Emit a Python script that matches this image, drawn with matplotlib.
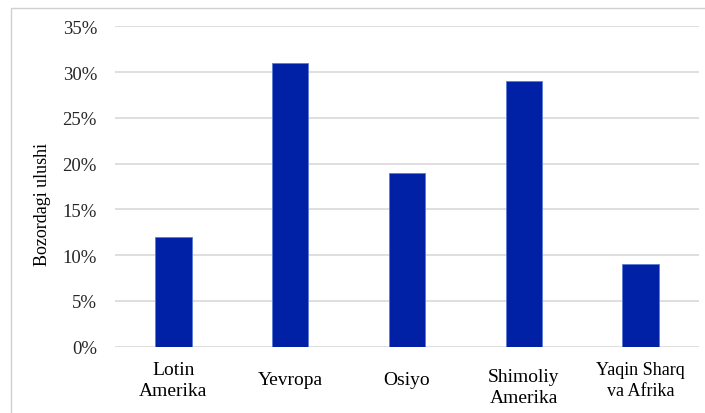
import matplotlib.pyplot as plt
from matplotlib.patches import Rectangle
from matplotlib.ticker import PercentFormatter
from matplotlib.transforms import blended_transform_factory

regions = ["Lotin\nAmerika", "Yevropa", "Osiyo", "Shimoliy\nAmerika", "Yaqin Sharq\nva Afrika"]
shares = [12, 31, 19, 29, 9]
# vertical nudge (px) and font size for each category label
label_dy = [0, 0, 0, -7, 0]
label_size = [14, 14, 14, 14, 13]


def main():
    plt.rcParams['font.family'] = ['Liberation Serif', 'DejaVu Serif']
    fig = plt.figure(figsize=(7.05, 4.14), dpi=100)
    ax = fig.add_axes([115 / 705, 1 - 347.7 / 414, 584 / 705, 320.3 / 414])

    x = range(len(regions))
    ax.bar(x, shares, width=0.31, color='#0021A5', edgecolor='#5C7BD6', linewidth=0.6, zorder=3)

    ax.set_xlim(-0.5, len(regions) - 0.5)
    ax.set_ylim(0, 35)
    ax.set_yticks(range(0, 36, 5))
    ax.yaxis.set_major_formatter(PercentFormatter(decimals=0))
    ax.tick_params(axis='y', length=0, pad=13, labelsize=13.5, labelcolor='#262626')
    ax.set_xticks([])
    ax.grid(axis='y', color='#D9D9D9', linewidth=1.2, zorder=0)
    for s in ax.spines.values():
        s.set_visible(False)

    ax.set_ylabel("Bozordagi ulushi", fontsize=13)
    ax.yaxis.set_label_coords(-64 / 584, (347.7 - 205) / 320.3)

    trans = blended_transform_factory(ax.transData, ax.transAxes)
    for i, name in enumerate(regions):
        y = (347.7 - 381 + label_dy[i]) / 320.3
        ax.text(i, y, name, transform=trans, ha='center', va='center',
                fontsize=label_size[i], linespacing=1.35)

    # chart frame
    fig.add_artist(Rectangle((11 / 705, -0.1), 1.0, 1.1 - 8.5 / 414, transform=fig.transFigure,
                             fill=False, edgecolor='#D0D0D0', linewidth=1.0))

    plt.savefig('out.png', dpi=100)


if __name__ == '__main__':
    main()
